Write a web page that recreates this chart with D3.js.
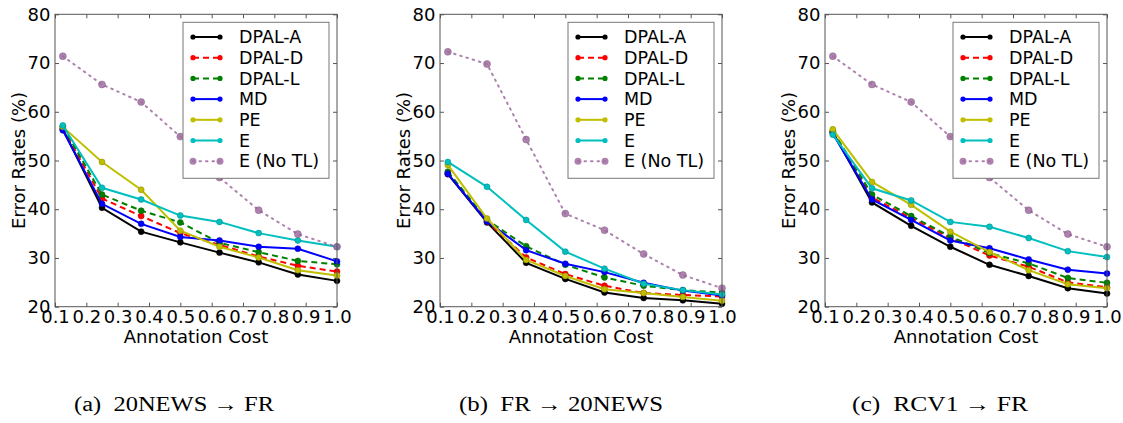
<!DOCTYPE html>
<html>
<head>
<meta charset="utf-8">
<script src="https://cdn.jsdelivr.net/npm/d3@7"></script>
<style>
  body { margin: 0; background: #fff; }
  svg { display: block; }
</style>
</head>
<body>
<svg id="chart"></svg>
<script>
const costs = [0.125, 0.25, 0.375, 0.5, 0.625, 0.75, 0.875, 1.0];
const xTicks = [0.1, 0.2, 0.3, 0.4, 0.5, 0.6, 0.7, 0.8, 0.9, 1.0];
const yTicks = [20, 30, 40, 50, 60, 70, 80];
const methods = ["DPAL-A", "DPAL-D", "DPAL-L", "MD", "PE", "E", "E (No TL)"];
const captions = ["(a)  20NEWS \u2192 FR", "(b)  FR \u2192 20NEWS", "(c)  RCV1 \u2192 FR"];

// (a) 20NEWS -> FR
const newsToFr = [
  [56.4, 40.3, 35.4, 33.2, 31.1, 29.1, 26.6, 25.3],
  [56.6, 42.2, 38.6, 35.1, 32.7, 30.3, 28.4, 27.2],
  [57.0, 43.0, 39.7, 37.3, 33.1, 31.2, 29.4, 28.7],
  [56.2, 41.1, 37.0, 34.3, 33.6, 32.3, 31.9, 29.3],
  [56.9, 49.7, 44.0, 35.6, 32.3, 30.1, 27.5, 26.4],
  [57.2, 44.4, 42.0, 38.7, 37.4, 35.1, 33.6, 32.3],
  [71.4, 65.6, 62.0, 54.9, 46.5, 39.8, 34.9, 32.3]
];

// (b) FR -> 20NEWS
const frToNews = [
  [47.2, 37.3, 29.0, 25.7, 22.9, 21.8, 21.3, 20.6],
  [47.4, 37.5, 30.1, 26.7, 24.3, 22.8, 22.4, 22.1],
  [47.7, 37.8, 32.4, 28.6, 26.0, 24.3, 23.4, 22.9],
  [47.3, 37.5, 31.6, 28.8, 27.1, 24.9, 23.3, 22.3],
  [49.1, 38.1, 29.6, 26.3, 23.6, 22.8, 22.0, 21.2],
  [49.7, 44.6, 37.8, 31.3, 27.8, 24.7, 23.4, 22.5],
  [72.3, 69.8, 54.3, 39.1, 35.7, 30.8, 26.5, 23.8]
];

// (c) RCV1 -> FR
const rcvToFr = [
  [55.8, 41.4, 36.6, 32.3, 28.6, 26.3, 23.8, 22.7],
  [55.9, 42.4, 38.2, 34.1, 30.5, 28.2, 25.0, 24.0],
  [56.0, 43.0, 38.6, 34.4, 31.0, 28.9, 25.9, 24.9],
  [55.5, 42.0, 37.8, 33.6, 32.0, 29.7, 27.6, 26.8],
  [56.4, 45.6, 40.9, 35.4, 31.2, 27.5, 24.6, 23.8],
  [55.3, 44.3, 41.8, 37.4, 36.4, 34.1, 31.4, 30.2],
  [71.4, 65.6, 62.0, 54.9, 46.5, 39.8, 34.9, 32.3]
];

const panels = [newsToFr, frToNews, rcvToFr];

const styles = [
  { color: "#000000", dash: null, width: 2 },
  { color: "#ff0000", dash: "6,4", width: 2 },
  { color: "#008000", dash: "6,4", width: 2 },
  { color: "#0000ff", dash: null, width: 2 },
  { color: "#bfbf00", dash: null, width: 2 },
  { color: "#00bfbf", dash: null, width: 2 },
  { color: "#a06ca0", dash: "1.5,5", width: 2, opacity: 0.85 }
];

const W = 1123, H = 423;
const panelLeft = [55, 440, 825];
const plotW = 282, plotTop = 14.3, plotBottom = 306.7;
const captionX = [174, 561, 940];
const captionW = [200, 204, 176];

const svg = d3.select("#chart").attr("width", W).attr("height", H);
const sans = "'DejaVu Sans', sans-serif";

panels.forEach((series, p) => {
  const h = plotBottom - plotTop;
  const x = d3.scaleLinear().domain([0.1, 1.0]).range([0, plotW]);
  const y = d3.scaleLinear().domain([20, 80]).range([h, 0]);

  const g = svg.append("g").attr("transform", `translate(${panelLeft[p]},${plotTop})`);

  // ticks (inside, all four sides)
  const fmt = d3.format(".1f");
  const xb = g.append("g").attr("transform", `translate(0,${h})`)
    .call(d3.axisBottom(x).tickValues(xTicks).tickFormat(fmt).tickSizeInner(-4).tickSizeOuter(0).tickPadding(4));
  const xt = g.append("g")
    .call(d3.axisTop(x).tickValues(xTicks).tickFormat("").tickSizeInner(-4).tickSizeOuter(0));
  const yl = g.append("g")
    .call(d3.axisLeft(y).tickValues(yTicks).tickFormat(d3.format("d")).tickSizeInner(-4).tickSizeOuter(0).tickPadding(4.5));
  const yr = g.append("g").attr("transform", `translate(${plotW},0)`)
    .call(d3.axisRight(y).tickValues(yTicks).tickFormat("").tickSizeInner(-4).tickSizeOuter(0));
  [xb, xt, yl, yr].forEach((a) => {
    a.select(".domain").remove();
    a.selectAll("line").attr("stroke", "#555");
    a.selectAll("text").attr("font-family", sans).attr("font-size", "18px").attr("fill", "#000");
  });

  // lines
  const line = d3.line().x((d, i) => x(costs[i])).y((d) => y(d));
  series.forEach((vals, k) => {
    const s = styles[k];
    g.append("path")
      .datum(vals)
      .attr("fill", "none")
      .attr("stroke", s.color)
      .attr("stroke-width", s.width)
      .attr("stroke-dasharray", s.dash)
      .attr("stroke-linecap", k === 6 ? "round" : "butt")
      .attr("opacity", s.opacity || 1)
      .attr("d", line);
    g.append("g").selectAll("circle")
      .data(vals)
      .join("circle")
      .attr("cx", (d, i) => x(costs[i]))
      .attr("cy", (d) => y(d))
      .attr("r", k === 6 ? 3.5 : 3)
      .attr("fill", s.color)
      .attr("opacity", s.opacity || 1)
      .attr("stroke", d3.color(s.color).darker(1))
      .attr("stroke-width", 0.5);
  });

  // frame
  g.append("rect")
    .attr("width", plotW).attr("height", h)
    .attr("fill", "none").attr("stroke", "#555").attr("stroke-width", 1);

  // Legend
  const lw = 146, lh = 156;
  const legend = g.append("g").attr("transform", `translate(${plotW - 8 - lw},8)`);
  legend.append("rect")
    .attr("width", lw).attr("height", lh)
    .attr("fill", "#fff").attr("stroke", "#777").attr("stroke-width", 1);
  methods.forEach((m, k) => {
    const s = styles[k];
    const ry = 14.7 + k * 20.7;
    legend.append("line")
      .attr("x1", 10).attr("x2", 37).attr("y1", ry).attr("y2", ry)
      .attr("stroke", s.color).attr("stroke-width", s.width)
      .attr("stroke-dasharray", s.dash)
      .attr("stroke-linecap", k === 6 ? "round" : "butt")
      .attr("opacity", s.opacity || 1);
    [10, 37].forEach((cx) => legend.append("circle")
      .attr("cx", cx).attr("cy", ry).attr("r", k === 6 ? 3.5 : 2.6)
      .attr("fill", s.color).attr("opacity", s.opacity || 1));
    legend.append("text")
      .attr("x", 56).attr("y", ry).attr("dy", "0.36em")
      .attr("font-family", sans).attr("font-size", "17.5px")
      .text(m);
  });

  // axis titles
  g.append("text")
    .attr("x", plotW / 2).attr("y", 343 - plotTop)
    .attr("text-anchor", "middle")
    .attr("font-family", sans).attr("font-size", "18px")
    .text("Annotation Cost");
  g.append("text")
    .attr("transform", `translate(${25 - panelLeft[0]},${h / 2}) rotate(-90)`)
    .attr("text-anchor", "middle")
    .attr("font-family", sans).attr("font-size", "18px")
    .text("Error Rates (%)");

  // caption
  svg.append("text")
    .attr("x", captionX[p] - captionW[p] / 2).attr("y", 411)
    .attr("xml:space", "preserve")
    .attr("textLength", captionW[p])
    .attr("lengthAdjust", "spacingAndGlyphs")
    .attr("font-family", "'Liberation Serif', 'Times New Roman', serif")
    .attr("font-size", "20.5px")
    .text(captions[p]);
});
</script>
</body>
</html>
